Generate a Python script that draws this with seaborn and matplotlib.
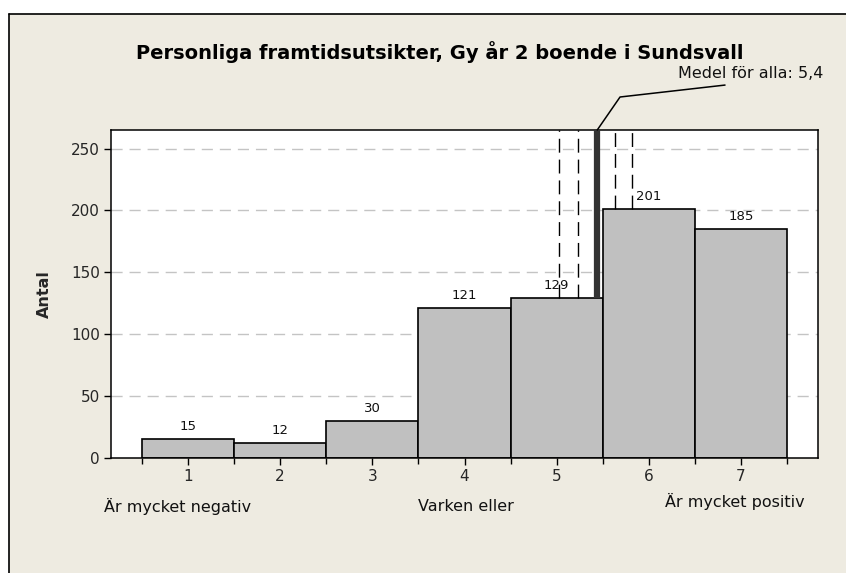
import matplotlib
matplotlib.use("Agg")
import matplotlib.pyplot as plt
import seaborn as sns
import pandas as pd
from matplotlib.patches import Rectangle
from matplotlib.transforms import offset_copy

# Svarsalternativ och antal svar
scores = [1, 2, 3, 4, 5, 6, 7]
counts = [15, 12, 30, 121, 129, 201, 185]
scale_labels = ["Är mycket negativ", "Varken eller", "Är mycket positiv"]
scale_label_pos = [1, 4, 7]

# Medelvärde för alla och dess intervallgränser
mean_all = 5.44
mean_text = "Medel för alla: 5,4"
interval_lines = [5.02, 5.23, 5.63, 5.82]

title = "Personliga framtidsutsikter, Gy år 2 boende i Sundsvall"
ylabel = "Antal"
yticks = [0, 50, 100, 150, 200, 250]

bg = "#EEEBE1"

sns.set_theme(style="white")
plt.rcParams["font.family"] = ["DejaVu Sans"]

fig = plt.figure(figsize=(8.46, 5.73), dpi=100, facecolor="white")
# beige panel with a thin frame at top and left
fig.patches.append(Rectangle((9 / 846, 0), 1, 1 - 14 / 573, transform=fig.transFigure,
                             facecolor=bg, edgecolor="none", zorder=-10))
fig.lines.append(plt.Line2D([9 / 846, 1], [1 - 14 / 573] * 2, transform=fig.transFigure,
                            color="black", lw=1.2, zorder=-5))
fig.lines.append(plt.Line2D([9 / 846] * 2, [0, 1 - 14 / 573], transform=fig.transFigure,
                            color="black", lw=1.2, zorder=-5))

ax = fig.add_axes([111 / 846, 1 - 458 / 573, 707 / 846, 328 / 573])
ax.set_zorder(1)
ax.set_facecolor("white")

df = pd.DataFrame({"score": scores, "count": counts})
sns.histplot(data=df, x="score", weights="count", discrete=True, ax=ax,
             color="#C0C0C0", edgecolor="black", linewidth=1.2, alpha=1, zorder=2)

ax.set_xlim(0.165, 7.835)
ax.set_ylim(0, 265)
ax.set_yticks(yticks)
ax.set_xticks(scores)
ax.set_xticks([s - 0.5 for s in scores] + [scores[-1] + 0.5], minor=True)
for y in yticks[1:]:
    ax.axhline(y, color="#C4C4C4", lw=1, ls=(0, (8, 5)), zorder=1)

ax.tick_params(axis="both", which="major", direction="out", length=5, width=1,
               color="black", labelsize=11, pad=3, bottom=True, left=True)
ax.tick_params(axis="x", which="minor", direction="out", length=4, width=1,
               color="black", bottom=True)
for s in ax.spines.values():
    s.set_color("black")
    s.set_linewidth(1.1)

# värdeetiketter ovanför staplarna
for x, c in zip(scores, counts):
    ax.text(x, c + 5, str(c), ha="center", va="bottom", fontsize=9.5, color="#111111", zorder=4)

# medelvärdeslinje och intervall
top = 265
bar_at = dict(zip(scores, counts))
ax.vlines(mean_all, bar_at[round(mean_all)], top, color="#333333", lw=4.5, zorder=5)
for xv in interval_lines:
    ax.vlines(xv, bar_at[round(xv)], top, color="black", lw=1, ls=(0, (10, 5)), zorder=3)

# ledlinje till texten
trans = ax.get_xaxis_transform()
kx = ax.transData.inverted().transform(ax.transAxes.transform((0.72, 0)))[0]
ex = ax.transData.inverted().transform(ax.transAxes.transform((0.8685, 0)))[0]
ax.plot([mean_all, kx, ex], [1.0, 1.1006, 1.137], transform=trans, color="black",
        lw=1.1, clip_on=False, zorder=6)
ax.text(0.802, 1.171, mean_text, transform=ax.transAxes, ha="left", va="center",
        fontsize=11.5, color="#111111")

ax.set_xlabel("")
ax.set_ylabel(ylabel, fontsize=11.5, fontweight="bold")
ax.yaxis.set_label_coords(-0.084, 0.5)

# skalans ändpunkter och mitt under x-axeln
label_dx = [-10, 1, -6]      # pixelförskjutning i x
label_y = [-0.149, -0.149, -0.134]
for lab, pos, dx, yy in zip(scale_labels, scale_label_pos, label_dx, label_y):
    tr = offset_copy(ax.get_xaxis_transform(), fig=fig, x=dx, y=0, units="dots")
    ax.text(pos, yy, lab, transform=tr, ha="center", va="center",
            fontsize=11.5, color="#111111")

fig.text(440 / 846, 1 - 52 / 573, title, ha="center", va="center", fontsize=14,
         fontweight="bold", color="black")

fig.savefig("out.png", dpi=100, facecolor="white")
